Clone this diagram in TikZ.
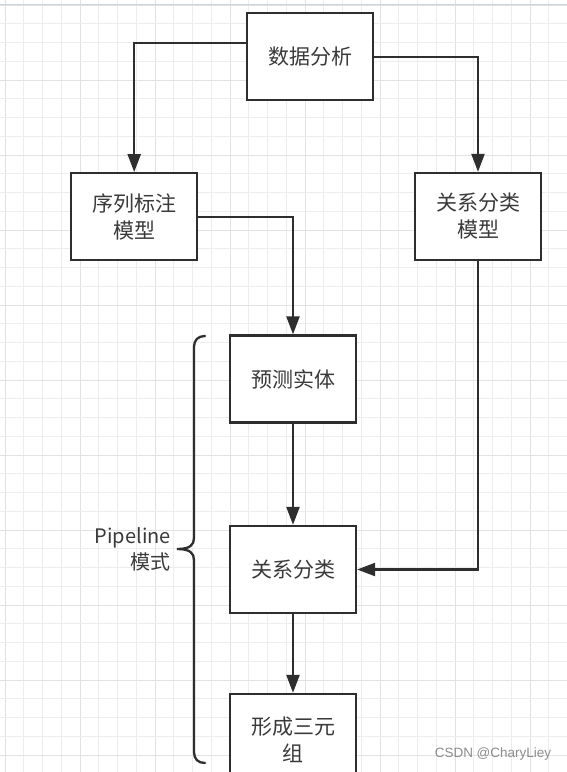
\documentclass[tikz,border=0pt]{standalone}
\usepackage{fontspec}
\setmainfont{Noto Sans CJK SC}
\newfontfamily\wmfont{Liberation Sans}
\usetikzlibrary{arrows.meta,calc}
\definecolor{ink}{HTML}{2E2E2E}
\definecolor{txt}{HTML}{3A3A3A}
\definecolor{gridminor}{HTML}{EDEDED}
\definecolor{gridmajor}{HTML}{E2E2E2}
\definecolor{topline}{HTML}{CBD3DE}
\tikzset{
  box/.style={draw=ink, line width=2.3pt, fill=white, minimum width=126pt, minimum height=87pt,
    inner sep=0pt, align=center, text=txt, font=\fontsize{21}{27}\selectfont},
  conn/.style={draw=ink, line width=2.3pt, -{Triangle[length=18pt,width=13pt]}},
  brace/.style={draw=ink, line width=2.3pt, line cap=round},
}
\begin{document}
\begin{tikzpicture}[x=1pt,y=1pt]
\useasboundingbox (0,0) rectangle (567,-772);
\clip (0,0) rectangle (567,-772);
\fill[white] (0,0) rectangle (567,-772);
% grid
\foreach \k in {0,...,30} {
  \pgfmathsetmacro{\p}{5+18.75*\k}
  \pgfmathtruncatemacro{\m}{mod(\k,4)}
  \ifnum\m=0
    \draw[gridmajor, line width=1pt] (\p,0) -- (\p,-772);
  \else
    \draw[gridminor, line width=1pt] (\p,0) -- (\p,-772);
  \fi
}
\foreach \k in {0,...,41} {
  \pgfmathsetmacro{\p}{-(5+18.75*\k)}
  \pgfmathtruncatemacro{\m}{mod(\k,4)}
  \ifnum\m=0
    \draw[gridmajor, line width=1pt] (0,\p) -- (567,\p);
  \else
    \draw[gridminor, line width=1pt] (0,\p) -- (567,\p);
  \fi
}
\draw[topline, line width=1.2pt] (0,-4.5) -- (567,-4.5);

% nodes
\node[box] (da) at (310.3,-56.7) {数据分析};
\node[box] (xl) at (134.2,-216.7) {序列标注\\模型};
\node[box] (gm) at (478,-216.5) {关系分类\\模型};
\node[box] (yc) at (293,-379) {预测实体};
\node[box] (gf) at (293,-569.5) {关系分类};
\node[box, minimum height=92pt] (xc) at (293,-740) {形成三元\\组};

% connectors
\draw[conn] ([yshift=13.7pt]da.west) -| (xl.north);
\draw[conn] (da.east) -| (gm.north);
\draw[conn] (xl.east) -| (yc.north);
\draw[conn] (yc.south) -- (gf.north);
\draw[conn] (gm.south) |- (gf.east);
\draw[conn] (gf.south) -- (xc.north);

% brace
\draw[brace] (205,-336) .. controls (198,-336) and (194,-340) .. (194,-347)
  -- (194,-538) .. controls (194,-545) and (190,-549) .. (177,-549)
  .. controls (190,-549) and (194,-553) .. (194,-560)
  -- (194,-752) .. controls (194,-759) and (198,-763) .. (205,-763);
\node[anchor=east, align=right, text=txt, font=\fontsize{20}{26}\selectfont, inner sep=0pt] (pl) at (171,-549) {Pipeline\\模式};

% watermark
\node[text=black!45, font=\wmfont\fontsize{13.5}{16}\selectfont, inner sep=0pt] (wm) at (493,-754) {CSDN @CharyLiey};
\end{tikzpicture}
\end{document}
